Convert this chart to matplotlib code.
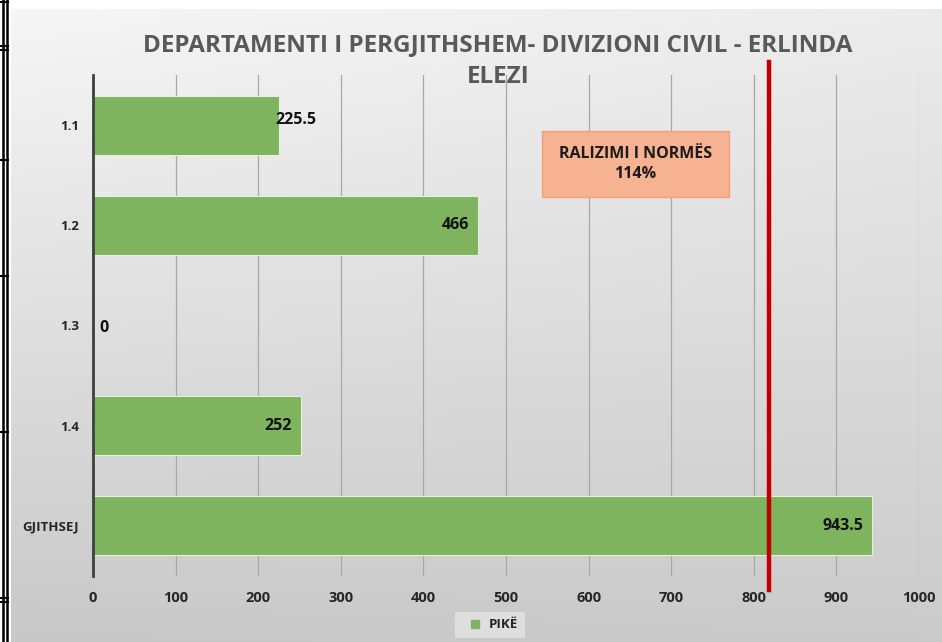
import numpy as np
import matplotlib
matplotlib.use('Agg')
import matplotlib.pyplot as plt
from matplotlib.lines import Line2D
from matplotlib.patches import Rectangle

plt.rcParams['font.family'] = ['Open Sans', 'DejaVu Sans']

# data
categories = ['1.1', '1.2', '1.3', '1.4', 'GJITHSEJ']
values = [225.5, 466, 0, 252, 943.5]
value_labels = ['225.5', '466', '0', '252', '943.5']
norm_line = 818
norm_text = 'RALIZIMI I NORMËS\n114%'
series_name = 'PIKË'
title = 'DEPARTAMENTI I PERGJITHSHEM- DIVIZIONI CIVIL - ERLINDA\nELEZI'

W, H = 942, 642
fig = plt.figure(figsize=(W / 100, H / 100), dpi=100)
fig.patch.set_facecolor('white')

def fx(px):
    return px / W

def fy(py):
    return 1 - py / H

# grey gradient background of the chart area
bg = fig.add_axes([fx(11), 0, fx(931), fy(9)], zorder=-5)
gy, gx = np.mgrid[0:1:200j, 0:1:300j]
shade = 0.965 - 0.13 * gy - 0.04 * gx - 0.05 * (1 - gx) * gy
bg.imshow(np.dstack([shade] * 3), aspect='auto', extent=[0, 1, 1, 0])
bg.set_axis_off()

# table border remnants on the left edge
for x in (2.5, 7.0):
    fig.add_artist(Line2D([fx(x), fx(x)], [0, 1], color='black', lw=1.8, zorder=10))
for y in (1.5, 46, 50, 160, 276, 432, 598, 602):
    fig.add_artist(Line2D([0, fx(8)], [fy(y), fy(y)], color='black', lw=1.5, zorder=10))

ax = fig.add_axes([fx(93), fy(576), fx(826), (576 - 75) / H])
ax.set_facecolor('none')

ypos = np.arange(len(categories))
bars = ax.barh(ypos, values, height=0.59, color='#7db45d', edgecolor='#e6efdc',
               linewidth=0.8, zorder=2, label=series_name)

ax.set_xlim(0, 1000)
ax.set_ylim(len(categories) - 0.5, -0.5)
ax.set_xticks(np.arange(0, 1001, 100))
ax.set_yticks(ypos)
ax.set_yticklabels(categories)
ax.grid(axis='x', color='#a8a8a8', lw=0.9, zorder=1)
ax.grid(axis='y', visible=False)
for s in ('top', 'right', 'bottom'):
    ax.spines[s].set_visible(False)
ax.spines['left'].set_color('#3f3f3f')
ax.spines['left'].set_linewidth(2)
ax.spines['left'].set_zorder(3)
ax.tick_params(axis='both', length=0)
ax.tick_params(axis='x', pad=11, labelsize=10.5, labelcolor='#262626')
ax.tick_params(axis='y', pad=10, labelsize=9.5, labelcolor='#262626')
for lab in ax.get_xticklabels() + ax.get_yticklabels():
    lab.set_fontweight('bold')

# value labels
for i, (v, t) in enumerate(zip(values, value_labels)):
    if v == 0:
        ax.text(8, i + 0.02, t, ha='left', va='center', fontsize=11.5, fontweight='bold', color='#111111', zorder=4)
    elif i == 0:
        ax.text(v - 5, i - 0.05, t, ha='left', va='center', fontsize=11.5, fontweight='bold', color='#111111', zorder=4)
    else:
        ax.text(v - 11, i, t, ha='right', va='center', fontsize=11.5, fontweight='bold', color='#111111', zorder=4)

# norm line, runs a bit past the plot area
ax.axvline(norm_line, ymin=-0.028, ymax=1.026, color='#c00000', lw=3.2, clip_on=False, zorder=5)

# annotation box
fig.add_artist(Rectangle((fx(542), fy(197)), fx(729 - 542), (197 - 131) / H,
                         facecolor='#f6b291', edgecolor='#eda27c', lw=1, zorder=6))
fig.text(fx(635.5), fy(164), norm_text, ha='center', va='center', fontsize=11.5,
         fontweight='bold', color='#1a1a1a', linespacing=1.25, zorder=7)

fig.text(fx(498), fy(61), title, ha='center', va='center', fontsize=17.5,
         fontweight='bold', color='#595959', linespacing=1.4)

leg = fig.legend(handles=[Line2D([], [], marker='s', ls='', color='#7db45d', markersize=6)],
                 labels=[series_name], loc='center', bbox_to_anchor=(fx(490), fy(625)),
                 frameon=True, fancybox=False, handletextpad=0.1, borderpad=0.5,
                 prop={'weight': 'bold', 'size': 9.5})
leg.get_frame().set_facecolor('#e4e4e4')
leg.get_frame().set_edgecolor('none')
leg.get_texts()[0].set_color('#262626')

fig.savefig('out.png', dpi=100)
